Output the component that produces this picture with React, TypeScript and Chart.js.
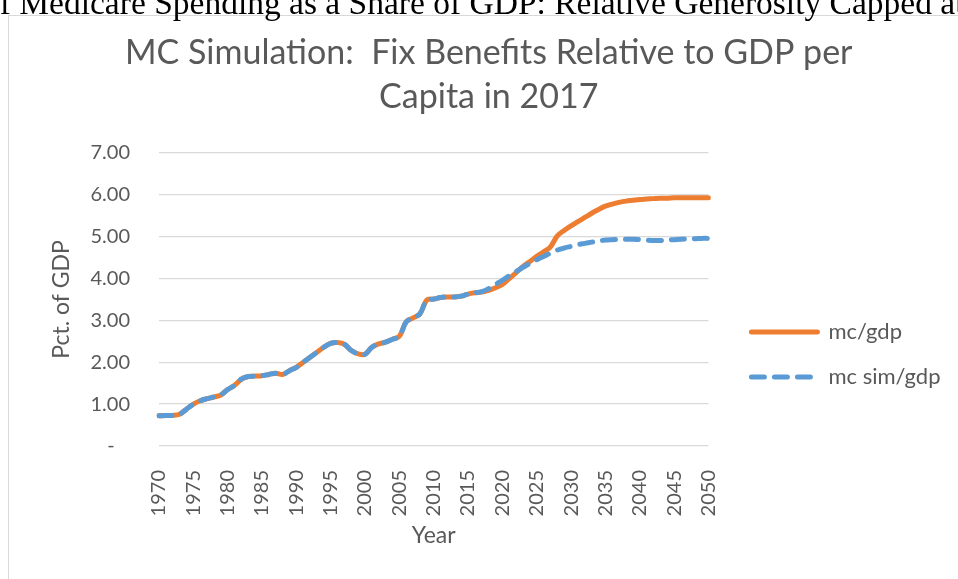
import React, { useEffect, useRef } from "react";
import { Chart, registerables } from "chart.js";

Chart.register(...registerables);

const years = [
  "1970", "1971", "1972", "1973", "1974", "1975", "1976", "1977", "1978", "1979",
  "1980", "1981", "1982", "1983", "1984", "1985", "1986", "1987", "1988", "1989",
  "1990", "1991", "1992", "1993", "1994", "1995", "1996", "1997", "1998", "1999",
  "2000", "2001", "2002", "2003", "2004", "2005", "2006", "2007", "2008", "2009",
  "2010", "2011", "2012", "2013", "2014", "2015", "2016", "2017", "2018", "2019",
  "2020", "2021", "2022", "2023", "2024", "2025", "2026", "2027", "2028", "2029",
  "2030", "2031", "2032", "2033", "2034", "2035", "2036", "2037", "2038", "2039",
  "2040", "2041", "2042", "2043", "2044", "2045", "2046", "2047", "2048", "2049",
  "2050",
];

const shownYears = ["1970", "1975", "1980", "1985", "1990", "1995", "2000", "2005", "2010",
  "2015", "2020", "2025", "2030", "2035", "2040", "2045", "2050"];

const mcGdp = [
  0.72, 0.73, 0.73, 0.76, 0.88, 1.0, 1.08, 1.13, 1.17, 1.22,
  1.35, 1.45, 1.6, 1.66, 1.67, 1.68, 1.71, 1.74, 1.71, 1.8,
  1.88, 2.0, 2.12, 2.24, 2.36, 2.45, 2.47, 2.43, 2.28, 2.2,
  2.19, 2.36, 2.44, 2.48, 2.55, 2.62, 2.97, 3.06, 3.16, 3.49,
  3.51, 3.55, 3.56, 3.56, 3.58, 3.63, 3.66, 3.68, 3.72, 3.78,
  3.86, 4.0, 4.14, 4.29, 4.41, 4.53, 4.64, 4.76, 5.02, 5.15,
  5.26, 5.36, 5.46, 5.56, 5.65, 5.73, 5.78, 5.82, 5.85, 5.87,
  5.89, 5.9, 5.91, 5.92, 5.92, 5.93, 5.93, 5.93, 5.93, 5.93,
  5.93,
];

const mcSimGdp = [
  0.72, 0.73, 0.73, 0.76, 0.88, 1.0, 1.08, 1.13, 1.17, 1.22,
  1.35, 1.45, 1.6, 1.66, 1.67, 1.68, 1.71, 1.74, 1.71, 1.8,
  1.88, 2.0, 2.12, 2.24, 2.36, 2.45, 2.47, 2.43, 2.28, 2.2,
  2.19, 2.36, 2.44, 2.48, 2.55, 2.62, 2.97, 3.06, 3.16, 3.49,
  3.51, 3.55, 3.56, 3.56, 3.58, 3.63, 3.66, 3.69, 3.76, 3.86,
  3.96, 4.07, 4.17, 4.27, 4.36, 4.45, 4.53, 4.61, 4.68, 4.73,
  4.77, 4.81, 4.84, 4.87, 4.9, 4.92, 4.93, 4.94, 4.94, 4.94,
  4.93, 4.92, 4.91, 4.91, 4.92, 4.93, 4.94, 4.95, 4.95, 4.96,
  4.96,
];

const seriesNames = ["mc/gdp", "mc sim/gdp"];
const titleLines = ["MC Simulation:  Fix Benefits Relative to GDP per", "Capita in 2017"];
const yTitle = "Pct. of GDP";
const xTitle = "Year";
const docText = "of Medicare Spending as a Share of GDP: Relative Generosity Capped at";

const FONT = "Lato, 'Open Sans', sans-serif";
const TXT = "#595959";
const GRID = "#D9D9D9";
const ORANGE = "#ED7D31";
const BLUE = "#5B9BD5";

export default function App() {
  const ref = useRef<HTMLCanvasElement>(null);

  useEffect(() => {
    const chart = new Chart(ref.current!, {
      type: "line",
      data: {
        labels: years,
        datasets: [
          {
            label: seriesNames[0],
            data: mcGdp,
            borderColor: ORANGE,
            backgroundColor: ORANGE,
            borderWidth: 5,
            borderCapStyle: "round",
            borderJoinStyle: "round",
            pointRadius: 0,
            tension: 0.35,
            order: 1,
            yAxisID: "y",
          },
          {
            label: seriesNames[1],
            data: mcSimGdp,
            borderColor: BLUE,
            backgroundColor: BLUE,
            borderWidth: 5,
            borderDash: [13, 10],
            borderCapStyle: "round",
            borderJoinStyle: "round",
            pointRadius: 0,
            tension: 0.35,
            order: 0,
            yAxisID: "y",
          },
        ],
      },
      options: {
        responsive: false,
        animation: false,
        layout: { padding: { left: 18, right: 18.5, top: 0, bottom: 29.2 } },
        plugins: {
          tooltip: { enabled: false },
          title: {
            display: true,
            text: titleLines,
            color: TXT,
            font: { family: FONT, size: 34, weight: "normal", lineHeight: 44 / 34 },
            padding: { top: 15, bottom: 34 },
          },
          legend: {
            display: true,
            position: "right",
            align: "start",
            maxWidth: 400,
            title: {
              display: true,
              text: "",
              padding: { top: 272, bottom: 0 },
              font: { size: 10, lineHeight: 1 },
            },
            labels: {
              usePointStyle: true,
              pointStyle: "line",
              pointStyleWidth: 66,
              padding: 23,
              color: TXT,
              font: { family: FONT, size: 22 },
              sort: (a: any, b: any) => a.datasetIndex - b.datasetIndex,
              generateLabels: (c: any) => {
                const items = (Chart.defaults as any).plugins.legend.labels.generateLabels(c);
                return items.map((it: any) => {
                  const ds: any = c.data.datasets[it.datasetIndex];
                  return {
                    ...it,
                    lineDash: ds.borderDash || [],
                    lineWidth: ds.borderWidth,
                    lineCap: "round",
                    strokeStyle: ds.borderColor,
                    fillStyle: ds.borderColor,
                    pointStyle: "line",
                  };
                });
              },
            },
          },
        },
        scales: {
          x: {
            type: "category",
            grid: { display: false },
            border: { display: false },
            ticks: {
              autoSkip: false,
              minRotation: 90,
              maxRotation: 90,
              padding: 16,
              color: TXT,
              font: { family: FONT, size: 20 },
              callback: (_v: any, i: number) =>
                shownYears.includes(years[i]) ? years[i] : null,
            },
            title: {
              display: true,
              text: xTitle,
              color: TXT,
              font: { family: FONT, size: 23 },
              padding: { top: 0, bottom: 0 },
            },
            afterFit: (s: any) => {
              s.height = 103.8;
            },
          },
          y: {
            type: "linear",
            position: "left",
            min: 0,
            max: 7,
            grid: { color: GRID, lineWidth: 1.3, drawTicks: false },
            border: { display: false },
            ticks: {
              stepSize: 1,
              padding: 29,
              color: TXT,
              font: { family: FONT, size: 20 },
              callback: (v: any) => (Number(v) === 0 ? "-   " : Number(v).toFixed(2)),
            },
            title: {
              display: true,
              text: yTitle,
              color: TXT,
              font: { family: FONT, size: 23 },
              padding: { top: 21.2, bottom: 0 },
            },
            afterFit: (s: any) => {
              s.width = 132;
            },
          },
          yRight: {
            type: "linear",
            position: "right",
            display: true,
            grid: { display: false },
            border: { display: false },
            ticks: { display: false },
            afterFit: (s: any) => {
              s.width = 20;
            },
          },
        },
      } as any,
    });
    return () => chart.destroy();
  }, []);

  return (
    <div
      style={{
        position: "fixed",
        left: 0,
        top: 0,
        width: 958,
        height: 579,
        overflow: "hidden",
        background: "#fff",
      }}
    >
      <div
        style={{
          position: "absolute",
          left: 8,
          top: 15,
          width: 1000,
          height: 700,
          border: "1px solid #D9D9D9",
        }}
      />
      <canvas
        ref={ref}
        width={960}
        height={563}
        style={{ position: "absolute", left: 9, top: 16, width: 960, height: 563 }}
      />
      <div
        style={{
          position: "absolute",
          left: -17,
          top: -14,
          fontFamily: "'Liberation Serif', 'Times New Roman', serif",
          fontSize: 33.5,
          lineHeight: "34px",
          whiteSpace: "nowrap",
          color: "#000",
        }}
      >
        {docText}
      </div>
    </div>
  );
}
